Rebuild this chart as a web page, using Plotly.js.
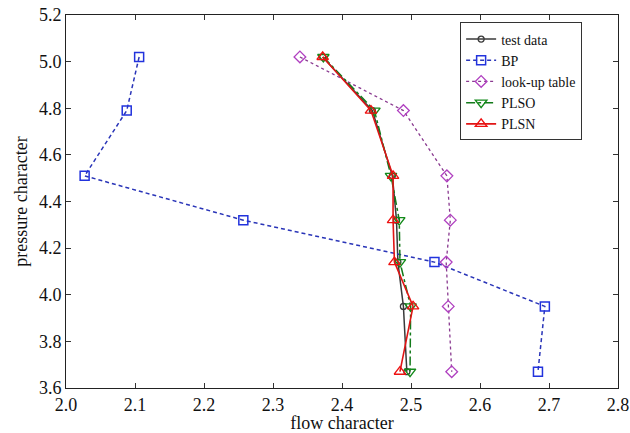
<!DOCTYPE html>
<html>
<head>
<meta charset="utf-8">
<script src="https://cdn.plot.ly/plotly-3.0.1.min.js"></script>
<style>
  html, body { margin: 0; padding: 0; background: #fff; }
  #chart { width: 630px; height: 433px; }
</style>
</head>
<body>
<div id="chart"></div>
<script>
// Pressure levels shared by every series
const pressure = [5.02, 4.79, 4.51, 4.32, 4.14, 3.95, 3.67];

// Flow character per method
const testData   = [2.372, 2.444, 2.473, 2.479, 2.481, 2.489, 2.494];
const bpFlow     = [2.106, 2.088, 2.027, 2.257, 2.534, 2.694, 2.684];
const lookupFlow = [2.339, 2.489, 2.552, 2.557, 2.551, 2.554, 2.559];
const plsoFlow   = [2.373, 2.447, 2.471, 2.483, 2.484, 2.4995, 2.4986];
const plsnFlow   = [2.372, 2.442, 2.474, 2.474, 2.476, 2.503, 2.484];

const seriesNames = ['test data', 'BP', 'look-up table', 'PLSO', 'PLSN'];

const xTicks = [2.0, 2.1, 2.2, 2.3, 2.4, 2.5, 2.6, 2.7, 2.8];
const yTicks = [3.6, 3.8, 4.0, 4.2, 4.4, 4.6, 4.8, 5.0, 5.2];

const serif = 'Liberation Serif';
const tickFont = { family: serif, size: 18, color: '#111111' };
const titleFont = { family: serif, size: 18, color: '#111111' };

const traces = [
  {
    x: testData, y: pressure, name: seriesNames[0], mode: 'lines+markers',
    line: { color: '#3a3a3a', width: 1.5, dash: 'solid' },
    marker: { symbol: 'circle-open', size: 6, color: '#3a3a3a', line: { width: 1.3 } }
  },
  {
    x: bpFlow, y: pressure, name: seriesNames[1], mode: 'lines+markers',
    line: { color: '#2a35b8', width: 1.5, dash: '4px,3px' },
    marker: { symbol: 'square-open', size: 9, color: '#2233dd', line: { width: 1.5 } }
  },
  {
    x: lookupFlow, y: pressure, name: seriesNames[2], mode: 'lines+markers',
    line: { color: '#8a3a90', width: 1.3, dash: 'dot' },
    marker: { symbol: 'diamond-open', size: 9, color: '#b040c0', line: { width: 1.3 } }
  },
  {
    x: plsoFlow, y: pressure, name: seriesNames[3], mode: 'lines+markers',
    line: { color: '#137a1a', width: 1.5, dash: 'dashdot' },
    marker: { symbol: 'triangle-down-open', size: 10, color: '#138a1a', line: { width: 1.4 } }
  },
  {
    x: plsnFlow, y: pressure, name: seriesNames[4], mode: 'lines+markers',
    line: { color: '#e01515', width: 1.6, dash: 'solid' },
    marker: { symbol: 'triangle-up-open', size: 10, color: '#ee1111', line: { width: 1.4 } }
  }
];

const layout = {
  width: 630,
  height: 433,
  margin: { l: 66, r: 12, t: 15, b: 45 },
  paper_bgcolor: '#fff',
  plot_bgcolor: '#fff',
  font: { family: serif, size: 18, color: '#111111' },
  showlegend: true,
  legend: {
    x: 0.714, y: 0.98, xanchor: 'left', yanchor: 'top',
    bgcolor: '#fff', bordercolor: '#333', borderwidth: 1,
    font: { family: serif, size: 14, color: '#111' },
    itemwidth: 30,
    tracegroupgap: 0
  },
  xaxis: {
    range: [2.0, 2.8],
    tickmode: 'array',
    tickvals: xTicks,
    ticktext: xTicks.map(v => v.toFixed(1)),
    tickfont: tickFont,
    showgrid: false, zeroline: false, showline: true,
    linecolor: '#222', linewidth: 1, mirror: 'ticks',
    ticks: 'inside', ticklen: 5, tickcolor: '#333',
    title: { text: 'flow character', font: titleFont, standoff: 0 }
  },
  yaxis: {
    range: [3.6, 5.2],
    tickmode: 'array',
    tickvals: yTicks,
    ticktext: yTicks.map(v => v.toFixed(1)),
    tickfont: tickFont,
    showgrid: false, zeroline: false, showline: true,
    linecolor: '#222', linewidth: 1, mirror: 'ticks',
    ticks: 'inside', ticklen: 5, tickcolor: '#333',
    title: { text: 'pressure character', font: titleFont, standoff: 6 }
  }
};

Plotly.newPlot('chart', traces, layout, { displayModeBar: false, staticPlot: true });
</script>
</body>
</html>
